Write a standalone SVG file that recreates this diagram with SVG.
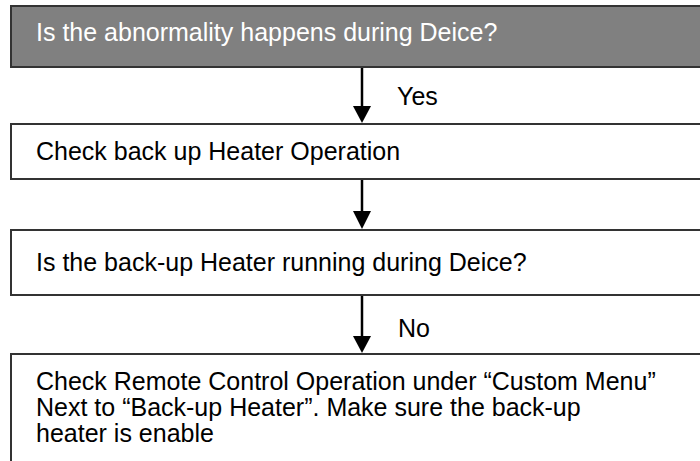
<svg xmlns="http://www.w3.org/2000/svg" width="700" height="461" viewBox="0 0 700 461">
<style>
.box{fill:#ffffff;stroke:#333333;stroke-width:2}
.dark{fill:#808080;stroke:#333333;stroke-width:2}
text{font-family:"Liberation Sans",Arial,sans-serif;font-size:25px;fill:#000}
.w{fill:#ffffff}
.ln{stroke:#000;stroke-width:2.5;fill:none}
.head{fill:#000}
</style>
<rect width="700" height="461" fill="#ffffff"/>
<g id="n1">
<rect class="dark" x="11" y="6" width="700" height="61"/>
<text class="w" x="36" y="41">Is the abnormality happens during Deice?</text>
</g>
<g id="n2">
<rect class="box" x="11" y="124" width="700" height="55"/>
<text x="36" y="160">Check back up Heater Operation</text>
</g>
<g id="n3">
<rect class="box" x="11" y="230" width="700" height="65"/>
<text x="36" y="271">Is the back-up Heater running during Deice?</text>
</g>
<g id="n4">
<rect class="box" x="11" y="354" width="700" height="120"/>
<text x="36" y="390">Check Remote Control Operation under “Custom Menu”</text>
<text x="36" y="416">Next to “Back-up Heater”. Make sure the back-up</text>
<text x="36" y="442">heater is enable</text>
</g>
<g id="edges">
<line class="ln" x1="362" y1="68" x2="362" y2="108"/>
<path class="head" d="M353,106 L371,106 L362,123 Z"/>
<text x="397" y="105">Yes</text>
<line class="ln" x1="362" y1="180" x2="362" y2="213"/>
<path class="head" d="M353,211 L371,211 L362,229 Z"/>
<line class="ln" x1="362" y1="296" x2="362" y2="338"/>
<path class="head" d="M353,336 L371,336 L362,353 Z"/>
<text x="398" y="337">No</text>
</g>
</svg>
